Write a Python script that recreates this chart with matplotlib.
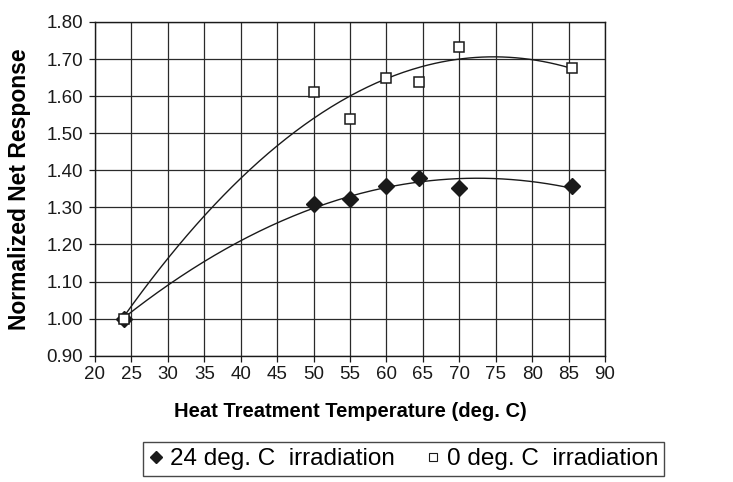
import numpy as np
import matplotlib
matplotlib.use('Agg')
import matplotlib.pyplot as plt
from matplotlib.lines import Line2D
from matplotlib.ticker import MultipleLocator, FormatStrFormatter

plt.rcParams['font.family'] = ['Liberation Sans', 'DejaVu Sans']

# data
temp = [24, 50, 55, 60, 64.5, 70, 85.5]
resp_24 = [1.00, 1.31, 1.323, 1.359, 1.379, 1.352, 1.359]
resp_0 = [1.00, 1.612, 1.538, 1.650, 1.638, 1.733, 1.675]

series_labels = ['24 deg. C  irradiation', '0 deg. C  irradiation']

fig = plt.figure(figsize=(7.33, 4.82), dpi=100)
ax = fig.add_axes([0.1296, 0.262, 0.6958, 0.6924])

# 2nd order polynomial trendlines (like excel)
xx = np.linspace(temp[0], temp[-1], 200)
for y in (resp_24, resp_0):
    c = np.polyfit(temp, y, 2)
    ax.plot(xx, np.polyval(c, xx), color='#1a1a1a', lw=1.0, zorder=3)

ax.plot(temp, resp_24, linestyle='none', marker='D', markersize=8,
        color='#1a1a1a', markeredgecolor='#1a1a1a', zorder=4)
ax.plot(temp, resp_0, linestyle='none', marker='s', markersize=6.5,
        markerfacecolor='white', markeredgecolor='#1a1a1a',
        markeredgewidth=1.1, zorder=5)

ax.set_xlim(20, 90)
ax.set_ylim(0.9, 1.8)
ax.xaxis.set_major_locator(MultipleLocator(5))
ax.yaxis.set_major_locator(MultipleLocator(0.1))
ax.yaxis.set_major_formatter(FormatStrFormatter('%.2f'))
ax.grid(True, color='#2a2a2a', lw=0.9)
ax.set_axisbelow(True)
for s in ax.spines.values():
    s.set_color('#1a1a1a')
    s.set_linewidth(1.0)
ax.tick_params(direction='out', length=4.5, width=0.9, colors='#1a1a1a',
               labelsize=13.5)
ax.tick_params(axis='y', pad=4)
ax.tick_params(axis='x', pad=3)

ax.set_xlabel('Heat Treatment Temperature (deg. C)', fontsize=14.5,
              fontweight='bold')
ax.set_ylabel('Normalized Net Response', fontsize=16.5, fontweight='bold')
ax.xaxis.set_label_coords(0.5, -0.14)
ax.yaxis.set_label_coords(-0.125, 0.5)

handles = [
    Line2D([], [], linestyle='none', marker='D', markersize=6.5,
           color='#1a1a1a'),
    Line2D([], [], linestyle='none', marker='s', markersize=5.5,
           markerfacecolor='white', markeredgecolor='#1a1a1a',
           markeredgewidth=0.8),
]
leg = fig.legend(handles, series_labels, loc='upper left',
                 bbox_to_anchor=(0.195, 0.083), ncol=2, fontsize=17.5,
                 frameon=True, fancybox=False, handlelength=0.55,
                 handletextpad=0.3, columnspacing=1.3, borderpad=0.25,
                 borderaxespad=0)
leg.get_frame().set_edgecolor('#1a1a1a')
leg.get_frame().set_linewidth(1.0)

fig.savefig('out.png', dpi=100)
